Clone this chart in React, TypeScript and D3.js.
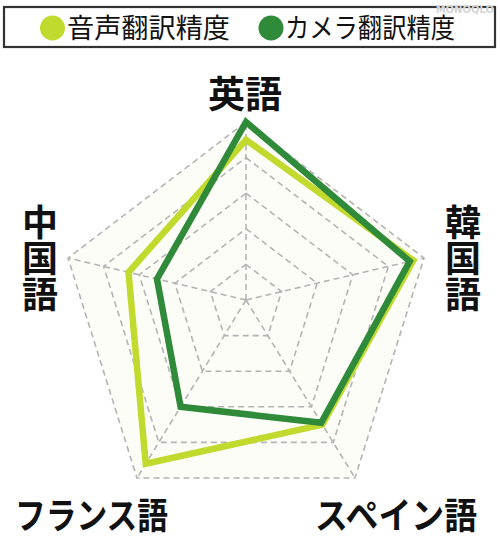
import React, { useEffect, useRef } from "react";
import * as d3 from "d3";

// Chart data
const categories = ["英語", "韓国語", "スペイン語", "フランス語", "中国語"];
const voiceScores = [4.5, 4.7, 3.5, 4.6, 3.3]; // 音声翻訳精度
const cameraScores = [5.0, 4.6, 3.45, 3.0, 2.5]; // カメラ翻訳精度
const ringLevels = [1, 2, 3, 4, 5];
const seriesNames = ["音声翻訳精度", "カメラ翻訳精度"];

const WIDTH = 500;
const HEIGHT = 554;
const FONT = "'Noto Sans CJK JP', 'Noto Sans', sans-serif";

// The picture's pentagon is not quite regular: offset of each outer vertex from the centre
const axisDirs = [
  { dx: 0, dy: -178 },
  { dx: 178, dy: -42 },
  { dx: 109, dy: 178 },
  { dx: -109, dy: 178 },
  { dx: -178, dy: -42 },
];

const RadarChart: React.FC = () => {
  const svgRef = useRef<SVGSVGElement | null>(null);

  useEffect(() => {
    const svg = d3.select(svgRef.current);
    svg.selectAll("*").remove();

    const cx = 246;
    const cy = 300;
    const r = d3.scaleLinear().domain([0, 5]).range([0, 1]);
    const pt = (i: number, v: number): [number, number] => [
      cx + axisDirs[i].dx * r(v),
      cy + axisDirs[i].dy * r(v),
    ];

    const line = d3
      .line<[number, number]>()
      .x((d) => d[0])
      .y((d) => d[1])
      .curve(d3.curveLinearClosed);

    svg.append("rect").attr("width", WIDTH).attr("height", HEIGHT).attr("fill", "#fff");

    // plot background
    svg
      .append("path")
      .attr("d", line(categories.map((_, i) => pt(i, 5)))!)
      .attr("fill", "#fdfdf7");

    // grid rings
    const grid = svg.append("g").attr("fill", "none").attr("stroke", "#b4b4b4")
      .attr("stroke-width", 1.6).attr("stroke-dasharray", "6,4");
    grid
      .selectAll("path")
      .data(ringLevels)
      .join("path")
      .attr("d", (lv) => line(categories.map((_, i) => pt(i, lv)))!);

    // spokes
    grid
      .selectAll("line")
      .data(categories)
      .join("line")
      .attr("x1", cx)
      .attr("y1", cy)
      .attr("x2", (_, i) => pt(i, 5)[0])
      .attr("y2", (_, i) => pt(i, 5)[1]);

    // series
    const series = [
      { values: voiceScores, color: "#c2d92d" },
      { values: cameraScores, color: "#2f8a3a" },
    ];
    svg
      .append("g")
      .selectAll("path")
      .data(series)
      .join("path")
      .attr("d", (s) => line(s.values.map((v, i) => pt(i, v)))!)
      .attr("fill", "none")
      .attr("stroke", (s) => s.color)
      .attr("stroke-width", 6.5)
      .attr("stroke-linejoin", "miter");

    // category labels
    const labels = svg.append("g").attr("font-family", FONT).attr("font-weight", 700)
      .attr("fill", "#111");
    labels.append("text").attr("x", 245).attr("y", 108).attr("text-anchor", "middle")
      .attr("font-size", 37).text(categories[0]);

    // vertical labels (left / right)
    const vertical = [
      { text: categories[4], x: 40 },
      { text: categories[1], x: 463 },
    ];
    vertical.forEach((v) => {
      labels
        .append("text")
        .attr("x", v.x)
        .attr("y", 204)
        .attr("font-size", 36)
        .style("writing-mode", "vertical-rl")
        .style("text-orientation", "upright")
        .text(v.text);
    });

    const bottom = [
      { text: categories[3], x: 15 },
      { text: categories[2], x: 315 },
    ];
    bottom.forEach((b) => {
      labels
        .append("text")
        .attr("x", b.x)
        .attr("y", 529)
        .attr("font-size", 36)
        .attr("textLength", b.text === categories[3] ? 153 : 162)
        .attr("lengthAdjust", "spacingAndGlyphs")
        .text(b.text);
    });

    // legend
    const legend = svg.append("g").attr("font-family", FONT);
    legend
      .append("rect")
      .attr("x", 4)
      .attr("y", 7)
      .attr("width", 491)
      .attr("height", 40)
      .attr("fill", "#fff")
      .attr("stroke", "#333")
      .attr("stroke-width", 2.2);
    const legendItems = [
      { name: seriesNames[0], color: series[0].color, x: 52.5, tx: 67, len: 163 },
      { name: seriesNames[1], color: series[1].color, x: 271, tx: 285, len: 170 },
    ];
    legendItems.forEach((it) => {
      legend.append("circle").attr("cx", it.x).attr("cy", 28).attr("r", 12.5).attr("fill", it.color);
      legend
        .append("text")
        .attr("x", it.tx)
        .attr("y", 38)
        .attr("font-size", 27)
        .attr("fill", "#111")
        .attr("textLength", it.len)
        .attr("lengthAdjust", "spacingAndGlyphs")
        .text(it.name);
    });

    // watermark
    svg
      .append("text")
      .attr("x", 494)
      .attr("y", 13)
      .attr("text-anchor", "end")
      .attr("font-family", "'DejaVu Sans', sans-serif")
      .attr("font-weight", 700)
      .attr("font-size", 10)
      .attr("fill", "#d4d4d4")
      .text("MONOQLO");
  }, []);

  return (
    <div style={{ position: "absolute", left: 0, top: 0 }}>
      <svg ref={svgRef} width={WIDTH} height={HEIGHT} style={{ display: "block" }}></svg>
    </div>
  );
};

export default function App() {
  return <RadarChart />;
}
